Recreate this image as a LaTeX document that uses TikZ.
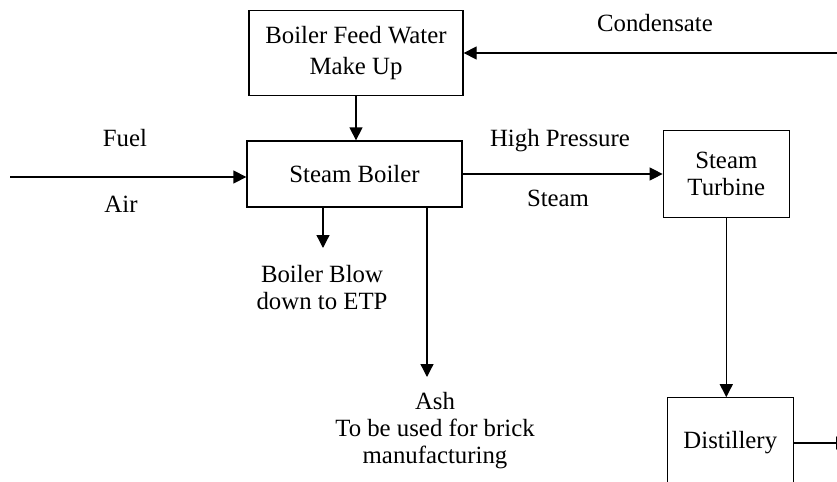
\documentclass[tikz,border=0pt]{standalone}
\usepackage{fontspec}
\setmainfont{Liberation Serif}
\usetikzlibrary{positioning,arrows.meta}
\tikzset{
  unit/.style={draw, line width=0.65pt, minimum width=63pt, align=center, font=\fontsize{12.4}{13.5}\selectfont},
  flow/.style={line width=0.65pt, -{Triangle[length=6.5pt,width=6.5pt]}},
  tag/.style={inner sep=0pt, align=center, font=\fontsize{12.4}{13.5}\selectfont}
}
\begin{document}
\begin{tikzpicture}[x=0.5pt,y=-0.5pt]
\useasboundingbox (0,0) rectangle (837,482);
\clip (0,0) rectangle (837,482);
\node[unit, minimum width=107.5pt, minimum height=33pt] (boiler) at (354.5,174) {Steam Boiler};
\node[unit, minimum width=107pt, minimum height=42.5pt, above=22pt of boiler, xshift=0.75pt, font=\fontsize{12.4}{15.5}\selectfont] (feed) {Boiler Feed Water\\Make Up};
\node[unit, minimum height=43.5pt, right=100pt of boiler] (turbine) {Steam\\Turbine};
\node[unit, minimum height=45pt, below=89.5pt of turbine, xshift=2pt] (distillery) {Distillery};

\coordinate (fuelin) at (10,177);
\coordinate (condin) at (837,53);
\coordinate (blowend) at (323,248);
\coordinate (ashend) at (427,377);
\coordinate (distout) at (849,443);

\draw[flow] (fuelin) -- (fuelin -| boiler.west);
\draw[flow] (condin) -- (condin -| feed.east);
\draw[flow] (feed.south) -- (feed.south |- boiler.north);
\draw[flow] (boiler.east) -- (boiler.east -| turbine.west);
\draw[flow] (blowend |- boiler.south) -- (blowend);
\draw[flow] (ashend |- boiler.south) -- (ashend);
\draw[flow] (turbine.south) -- (turbine.south |- distillery.north);
\draw[flow] (distout -| distillery.east) -- (distout);

\node[tag, anchor=base] (fuel) at (125,147) {Fuel};
\node[tag, anchor=base] (air) at (121,213) {Air};
\node[tag, anchor=base] (hp) at (560,147) {High Pressure};
\node[tag, anchor=base] (steam) at (558,206) {Steam};
\node[tag, anchor=base] (cond) at (655,32) {Condensate};
\node[tag, anchor=north] (blow) at (322,265) {Boiler Blow\\down to ETP};
\node[tag, anchor=north] (ash) at (435,392) {Ash\\To be used for brick\\manufacturing};
\end{tikzpicture}
\end{document}
